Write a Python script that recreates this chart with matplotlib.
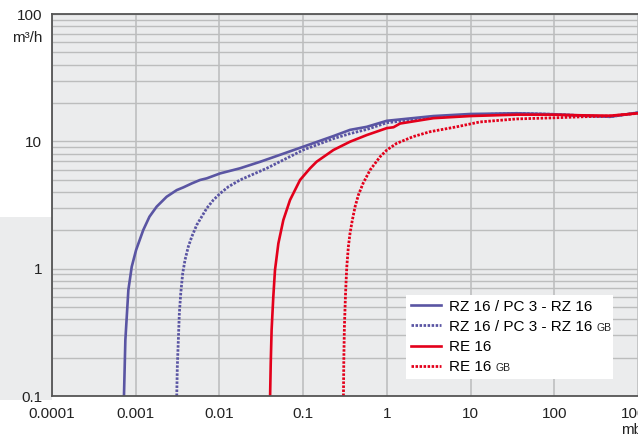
import matplotlib
matplotlib.use("Agg")
import matplotlib.pyplot as plt
from matplotlib.patches import Rectangle
from matplotlib.ticker import LogLocator, FixedLocator, NullFormatter, NullLocator

plt.rcParams['font.family'] = ['Liberation Sans', 'DejaVu Sans']

# ---- data (pressure mbar, pumping speed m3/h) ----
rz16_x = [7.24e-4, 7.52e-4, 8.17e-4, 8.96e-4, 1.01e-3, 1.23e-3, 1.46e-3, 1.78e-3, 2.34e-3,
          3.09e-3, 3.71e-3, 4.67e-3, 5.86e-3, 7.05e-3, 0.0102, 0.0176, 0.0305,
          0.1, 0.23, 0.363, 0.575, 1.0, 3.6, 10, 35.6, 100, 223, 464, 1000]
rz16_y = [0.1, 0.275, 0.68, 1.035, 1.40, 2.01, 2.56, 3.07, 3.67,
          4.14, 4.35, 4.67, 4.97, 5.12, 5.6, 6.14, 6.9,
          9.07, 11.0, 12.3, 13.0, 14.5, 15.8, 16.4, 16.6, 16.3, 15.9, 15.6, 16.8]

rz16gb_x = [3.09e-3, 3.14e-3, 3.23e-3, 3.32e-3, 3.45e-3, 3.64e-3, 3.88e-3, 4.25e-3, 4.67e-3,
            5.35e-3, 6.14e-3, 7.05e-3, 8.46e-3, 0.0102, 0.0128, 0.0176, 0.0367, 0.1,
            0.23, 0.363, 0.575, 1.0, 3.6, 10, 35.6, 100, 223, 464, 1000]
rz16gb_y = [0.1, 0.170, 0.275, 0.445, 0.64, 0.918, 1.17, 1.49, 1.78,
            2.20, 2.56, 2.98, 3.46, 3.90, 4.4, 4.97, 6.14, 8.55,
            10.5, 11.5, 12.4, 14.0, 15.4, 16.1, 16.6, 16.3, 15.9, 15.6, 16.8]

re16_x = [0.0403, 0.041, 0.042, 0.044, 0.0461, 0.0506, 0.058, 0.0697, 0.0918, 0.121,
          0.145, 0.23, 0.363, 0.575, 1.0, 1.2, 1.44, 3.6, 10, 35.6, 100, 223, 464, 1000]
re16_y = [0.1, 0.18, 0.33, 0.6, 0.975, 1.58, 2.41, 3.46, 4.97, 6.14,
          6.92, 8.55, 9.93, 11.2, 12.7, 12.9, 13.8, 15.2, 15.8, 16.2, 16.2, 16.0, 15.9, 16.6]

re16gb_x = [0.303, 0.306, 0.311, 0.321, 0.332, 0.347, 0.363, 0.387, 0.417, 0.457, 0.52,
            0.63, 0.83, 1.0, 1.31, 2.07, 3.28, 6.8, 12.9, 35.6, 100, 223, 464, 1000]
re16gb_y = [0.1, 0.191, 0.35, 0.64, 1.03, 1.49, 1.89, 2.41, 3.06, 3.79, 4.68,
            5.95, 7.57, 8.55, 9.64, 10.9, 11.9, 13.0, 14.2, 15.0, 15.3, 15.6, 15.8, 16.6]

labels = ["RZ 16 / PC 3 - RZ 16", "RZ 16 / PC 3 - RZ 16", "RE 16", "RE 16"]
suffix = ["", "GB", "", "GB"]

x_ticks = [0.0001, 0.001, 0.01, 0.1, 1, 10, 100, 1000]
x_ticklabels = ["0.0001", "0.001", "0.01", "0.1", "1", "10", "100", "1000\nmbar"]
y_ticks = [0.1, 1, 10, 100]
y_ticklabels = ["0.1", "1", "10", "100"]

BLUE = "#5a55a3"
RED = "#e3001b"
BG = "#ebeced"
TXT = "#222222"

fig = plt.figure(figsize=(6.38, 4.45), dpi=100)
fig.patch.set_facecolor("white")
fig.patches.append(Rectangle((0, 0.101), 0.0815, 0.411, transform=fig.transFigure,
                             facecolor=BG, edgecolor="none", zorder=-1))

ax = fig.add_axes([52 / 638, 49 / 445, 1 - 52 / 638, 382 / 445])
ax.set_facecolor(BG)
ax.set_xscale("log")
ax.set_yscale("log")
ax.set_xlim(1e-4, 1000)
ax.set_ylim(0.1, 100)

ax.xaxis.set_major_locator(FixedLocator(x_ticks))
ax.xaxis.set_minor_locator(NullLocator())
ax.set_xticklabels(x_ticklabels)
ax.yaxis.set_major_locator(FixedLocator(y_ticks))
ax.yaxis.set_minor_locator(LogLocator(base=10, subs=range(2, 10)))
ax.yaxis.set_minor_formatter(NullFormatter())
ax.set_yticklabels(y_ticklabels)

ax.tick_params(axis="both", which="both", length=0, labelsize=11, colors=TXT)
ax.tick_params(axis="y", pad=7)
ax.tick_params(axis="x", pad=8)

ax.grid(True, axis="x", which="major", color="#c2c3c3", lw=1.3)
ax.grid(True, axis="y", which="both", color="#bcbdbd", lw=1.0)
ax.set_axisbelow(True)

ax.spines["right"].set_visible(False)
for s in ["left", "bottom", "top"]:
    ax.spines[s].set_color("#555555")
    ax.spines[s].set_linewidth(1.3)

dot = (0, (0.9, 0.55))
h1, = ax.plot(rz16_x, rz16_y, color=BLUE, lw=1.9)
h2, = ax.plot(rz16gb_x, rz16gb_y, color=BLUE, lw=2.0, linestyle=dot)
h3, = ax.plot(re16_x, re16_y, color=RED, lw=1.9)
h4, = ax.plot(re16gb_x, re16gb_y, color=RED, lw=2.0, linestyle=dot)

leg = ax.legend([h1, h2, h3, h4], labels, loc="upper left",
                bbox_to_anchor=(0.604, 0.264), borderaxespad=0, frameon=False,
                fontsize=11, handlelength=2.0, handletextpad=0.5, labelspacing=0.4,
                borderpad=0.3)
leg.set_zorder(6)

fig.text(42 / 638, 1 - 42 / 445, "m³/h", ha="right", va="baseline", fontsize=11,
         color=TXT)

fig.canvas.draw()
renderer = fig.canvas.get_renderer()
W, H = fig.bbox.width, fig.bbox.height
right = 0
for txt, suf in zip(leg.get_texts(), suffix):
    bb = txt.get_window_extent(renderer)
    right = max(right, bb.x1)
    if not suf:
        continue
    prop = txt.get_fontproperties()
    _, _, d_lp = renderer.get_text_width_height_descent("lp", prop, ismath=False)
    base = bb.y0 + d_lp
    t = fig.text((bb.x1 + 4) / W, base / H, suf, fontsize=7.5, color=TXT,
                 ha="left", va="baseline", zorder=10)
    right = max(right, t.get_window_extent(renderer).x1)

lb = leg.get_window_extent(renderer)
x0 = lb.x0
y0 = lb.y0
ax.add_patch(Rectangle((x0 / W, y0 / H), (right + 2 - x0) / W, lb.height / H,
                       transform=fig.transFigure, facecolor="white", edgecolor="none",
                       zorder=5, clip_on=False))

fig.savefig("out.png", dpi=100)
